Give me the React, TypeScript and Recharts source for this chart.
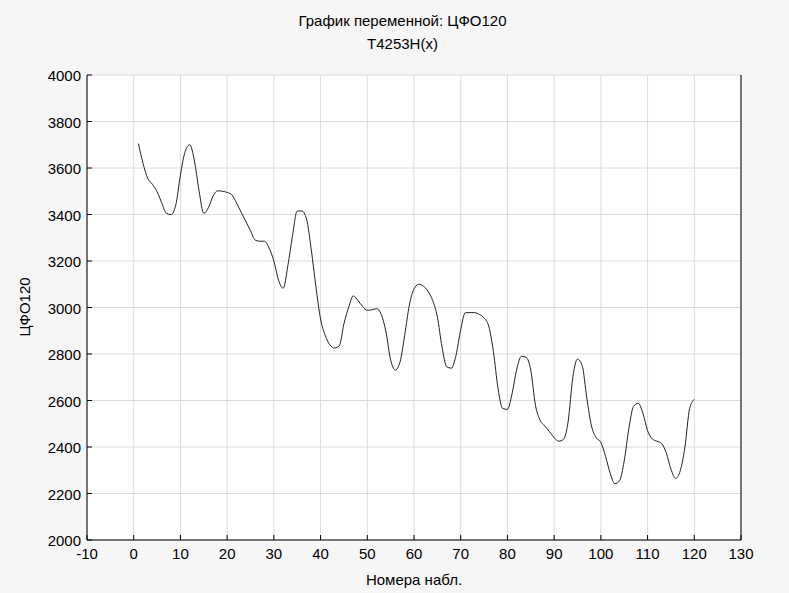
import React from 'react';
import { LineChart, Line, XAxis, YAxis, CartesianGrid } from 'recharts';

const obsNumbers = Array.from({ length: 120 }, (_, i) => i + 1);
const cfoValues = [
  3705, 3620, 3555, 3530, 3498, 3450, 3405, 3400, 3440, 3570,
  3670, 3700, 3630, 3500, 3405, 3430, 3480, 3502, 3500, 3495,
  3485, 3450, 3410, 3370, 3330, 3290, 3285, 3285, 3255, 3200,
  3118, 3083, 3180, 3310, 3415, 3415, 3380, 3250, 3090, 2950,
  2880, 2839, 2826, 2835, 2930, 3000, 3050, 3030, 3005, 2988,
  2990, 2995, 2970, 2895, 2775, 2731, 2765, 2880, 3010, 3080,
  3100, 3092, 3070, 3030, 2960, 2830, 2745, 2739, 2795, 2905,
  2978, 2978, 2978, 2970, 2955, 2920, 2810, 2650, 2565, 2562,
  2630, 2735, 2790, 2786, 2730, 2580, 2515, 2490, 2466, 2440,
  2425, 2433, 2510, 2700, 2778, 2750, 2610, 2490, 2440, 2420,
  2360, 2287, 2242, 2255, 2340, 2480, 2575, 2588, 2545, 2470,
  2435, 2425, 2415, 2375, 2305, 2265, 2298, 2400, 2565, 2605,
];
const xTicks = [-10, 0, 10, 20, 30, 40, 50, 60, 70, 80, 90, 100, 110, 120, 130];
const yTicks = [2000, 2200, 2400, 2600, 2800, 3000, 3200, 3400, 3600, 3800, 4000];

const title = 'График переменной: ЦФО120';
const subtitle = 'T4253H(x)';
const xLabel = 'Номера набл.';
const yLabel = 'ЦФО120';

const data = obsNumbers.map((n, i) => ({ n, v: cfoValues[i] }));

const FONT = '"Liberation Sans Narrow", "Liberation Sans", Arial, sans-serif';
const tickStyle = { fontFamily: FONT, fontSize: 15, fill: '#000' };

const LeftTick = (p: any) => (
  <g>
    <line x1={p.x + 6} x2={p.x + 11} y1={p.y} y2={p.y} stroke="#000" />
    <text x={p.x} y={p.y} dy={6} textAnchor="end" style={tickStyle}>{p.payload.value}</text>
  </g>
);

const RightTick = (p: any) => (
  <g>
    <line x1={p.x - 6} x2={p.x - 11} y1={p.y} y2={p.y} stroke="#000" />
    <text x={p.x} y={p.y} dy={6} textAnchor="start" style={tickStyle}>{p.payload.value}</text>
  </g>
);

const BottomTick = (p: any) => (
  <g>
    <line x1={p.x} x2={p.x} y1={p.y - 4} y2={p.y - 9} stroke="#000" />
    <text x={p.x} y={p.y} dy={15} textAnchor="middle" style={tickStyle}>{p.payload.value}</text>
  </g>
);

const TopTick = (p: any) => (
  <line x1={p.x} x2={p.x} y1={p.y} y2={p.y + 5} stroke="#000" />
);

export default function App() {
  return (
    <div style={{ position: 'absolute', left: 0, top: 0, width: 789, height: 593, background: '#f6f6f6', fontFamily: FONT }}>
      <div style={{ position: 'absolute', top: 12, width: 789, textAlign: 'center', fontSize: 15, left: 8 }}>{title}</div>
      <div style={{ position: 'absolute', top: 35, width: 789, textAlign: 'center', fontSize: 15, left: 8 }}>{subtitle}</div>
      <div style={{ position: 'absolute', top: 571, width: 828, textAlign: 'center', fontSize: 15, left: 0 }}>{xLabel}</div>
      <div style={{ position: 'absolute', left: 24, top: 307, fontSize: 15, transform: 'translate(-50%, -50%) rotate(-90deg)', whiteSpace: 'nowrap' }}>{yLabel}</div>
      <LineChart width={789} height={593} data={data} margin={{ top: 75, right: 0, bottom: 23, left: 37 }}>
        <CartesianGrid stroke="#dcdcdc" fill="#fff" horizontalValues={yTicks} verticalValues={xTicks} />
        <XAxis dataKey="n" type="number" domain={[-10, 130]} ticks={xTicks} height={30}
          tickSize={0} tickMargin={4} tick={<BottomTick />} axisLine={{ stroke: '#000' }} tickLine={false} interval={0} />
        <XAxis xAxisId="top" orientation="top" dataKey="n" type="number" domain={[-10, 130]} ticks={xTicks} height={0}
          tickSize={0} tickMargin={0} tick={<TopTick />} axisLine={{ stroke: '#000' }} tickLine={false} interval={0} />
        <YAxis domain={[2000, 4000]} ticks={yTicks} width={50} tickSize={0} tickMargin={6}
          tick={<LeftTick />} axisLine={{ stroke: '#000' }} tickLine={false} interval={0} />
        <YAxis yAxisId="right" orientation="right" domain={[2000, 4000]} ticks={yTicks} width={48} tickSize={0} tickMargin={6}
          tick={<RightTick />} axisLine={{ stroke: '#000' }} tickLine={false} interval={0} />
        <Line dataKey="v" type="monotone" stroke="#222" strokeWidth={1} dot={false} isAnimationActive={false} />
      </LineChart>
    </div>
  );
}
